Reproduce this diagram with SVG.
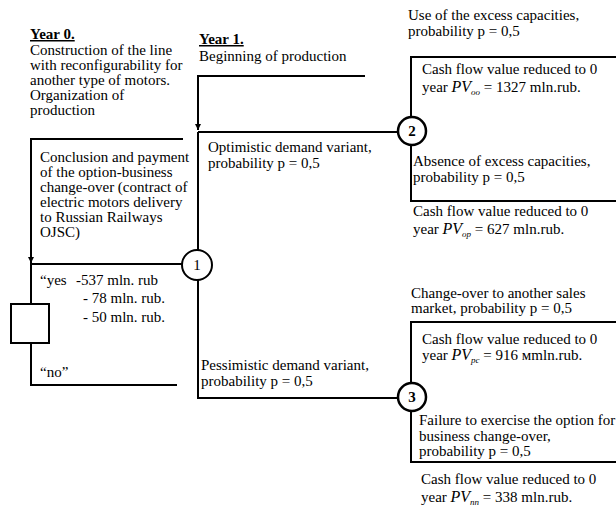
<svg xmlns="http://www.w3.org/2000/svg" width="616" height="509" viewBox="0 0 616 509">
<defs>
<style>
text{font-family:"Liberation Serif","Times New Roman",serif;font-size:15px;fill:#000}
.b{font-weight:bold;text-decoration:underline}
.i{font-style:italic;font-size:16px}
.s{font-style:italic;font-size:9px}
.ln{stroke:#000;stroke-width:2;fill:none}
.nd{fill:#fff;stroke:#000;stroke-width:2}
.nb{fill:#fff;stroke:#000;stroke-width:2.5}
</style>
<marker id="ah" viewBox="0 0 10 10" refX="10" refY="5" markerWidth="6" markerHeight="6" orient="auto" markerUnits="userSpaceOnUse">
<path d="M0,0 L10,5 L0,10 z" fill="#000"/>
</marker>
</defs>
<rect width="616" height="509" fill="#fff"/>
<g id="connectors">
<polyline class="ln" points="365,76 198,76 198,130" marker-end="url(#ah)"/>
<polyline class="ln" points="198,132 198,398 397,398"/>
<line class="ln" x1="198" y1="132" x2="398" y2="132"/>
<polyline class="ln" points="183,139 31,139 31,263" marker-end="url(#ah)"/>
<polyline class="ln" points="183,264 31,264 31,304"/>
<polyline class="ln" points="31,343 31,385 177,385"/>
<polyline class="ln" points="616,57 411,57 411,201 616,201"/>
<polyline class="ln" points="616,322 411,322 411,462 616,462"/>
</g>
<g id="node1">
<circle class="nd" cx="197" cy="265" r="15"/>
<text x="197" y="270" text-anchor="middle">1</text>
</g>
<g id="node2">
<circle class="nb" cx="412" cy="131" r="14"/>
<text x="412" y="136" text-anchor="middle" font-weight="bold">2</text>
</g>
<g id="node3">
<circle class="nb" cx="412" cy="397" r="14"/>
<text x="412" y="402" text-anchor="middle" font-weight="bold">3</text>
</g>
<g id="decision-box">
<rect x="11" y="304" width="38" height="39" fill="#fff" stroke="#000" stroke-width="2"/>
</g>
<g id="year0">
<text x="30" y="39" class="b">Year 0.</text>
<text x="30" y="55">Construction of the line</text>
<text x="30" y="70">with reconfigurability for</text>
<text x="30" y="85">another type of motors.</text>
<text x="30" y="100">Organization of</text>
<text x="30" y="115">production</text>
</g>
<g id="year1">
<text x="199" y="44" class="b">Year 1.</text>
<text x="199" y="61">Beginning of production</text>
</g>
<g id="option-text">
<text x="40" y="162">Conclusion and payment</text>
<text x="40" y="177">of the option-business</text>
<text x="40" y="192">change-over (contract of</text>
<text x="40" y="207">electric motors delivery</text>
<text x="40" y="222">to Russian Railways</text>
<text x="40" y="237">OJSC)</text>
</g>
<g id="yes-no">
<text x="40" y="285">“yes<tspan x="76">-537 mln. rub</tspan></text>
<text x="83" y="303">- 78 mln. rub.</text>
<text x="83" y="322">- 50 mln. rub.</text>
<text x="40" y="377">“no”</text>
</g>
<g id="optimistic">
<text x="208" y="152">Optimistic demand variant,</text>
<text x="208" y="168">probability p = 0,5</text>
</g>
<g id="pessimistic">
<text x="201" y="370">Pessimistic demand variant,</text>
<text x="201" y="386">probability p = 0,5</text>
</g>
<g id="branch2">
<text x="408" y="20">Use of the excess capacities,</text>
<text x="408" y="36">probability p = 0,5</text>
<text x="422" y="74">Cash flow value reduced to 0</text>
<text x="422" y="92">year <tspan class="i">PV</tspan><tspan class="s" dy="3">oo</tspan><tspan dy="-3"> = 1327 mln.rub.</tspan></text>
<text x="413" y="166">Absence of excess capacities,</text>
<text x="413" y="182">probability p = 0,5</text>
<text x="413" y="216">Cash flow value reduced to 0</text>
<text x="413" y="234">year <tspan class="i">PV</tspan><tspan class="s" dy="3">op</tspan><tspan dy="-3"> = 627 mln.rub.</tspan></text>
</g>
<g id="branch3">
<text x="411" y="298">Change-over to another sales</text>
<text x="411" y="313">market, probability p = 0,5</text>
<text x="422" y="344">Cash flow value reduced to 0</text>
<text x="422" y="360">year <tspan class="i">PV</tspan><tspan class="s" dy="3">pc</tspan><tspan dy="-3"> = 916 мmln.rub.</tspan></text>
<text x="419" y="425">Failure to exercise the option for</text>
<text x="419" y="441">business change-over,</text>
<text x="419" y="456">probability p = 0,5</text>
<text x="421" y="484">Cash flow value reduced to 0</text>
<text x="421" y="502">year <tspan class="i">PV</tspan><tspan class="s" dy="3">nn</tspan><tspan dy="-3"> = 338 mln.rub.</tspan></text>
</g>
</svg>
